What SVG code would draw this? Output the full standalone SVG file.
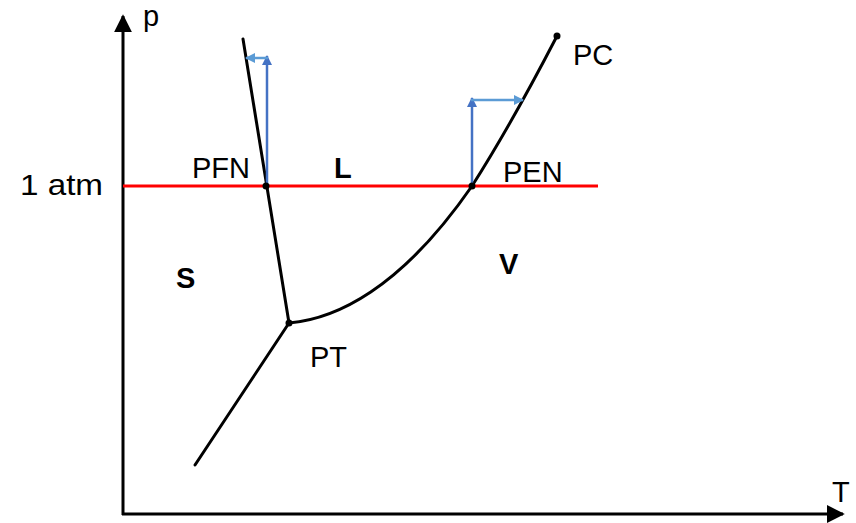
<svg xmlns="http://www.w3.org/2000/svg" width="856" height="523" viewBox="0 0 856 523">
<style>
text{font-family:"Liberation Sans","Open Sans",sans-serif;font-size:29px;fill:#000}
.b{font-weight:bold}
.curve{fill:none;stroke:#000;stroke-width:3;stroke-linecap:round}
.axis{fill:none;stroke:#000;stroke-width:3}
</style>
<defs>
<marker id="ah" viewBox="0 0 10 10" refX="9" refY="5" markerWidth="18" markerHeight="18" markerUnits="userSpaceOnUse" orient="auto"><path d="M0,0L10,5L0,10z" fill="#000"/></marker>
<marker id="bd" viewBox="0 0 10 10" refX="9" refY="5" markerWidth="10" markerHeight="10" markerUnits="userSpaceOnUse" orient="auto"><path d="M0,0L10,5L0,10z" fill="#4472C4"/></marker>
<marker id="bl" viewBox="0 0 10 10" refX="9" refY="5" markerWidth="10" markerHeight="10" markerUnits="userSpaceOnUse" orient="auto"><path d="M0,0L10,5L0,10z" fill="#5B9BD5"/></marker>
</defs>
<g id="axes">
<line class="axis" x1="123" y1="515" x2="123" y2="16" marker-end="url(#ah)"/>
<line class="axis" x1="122" y1="514" x2="843" y2="514" marker-end="url(#ah)"/>
<text x="143" y="26">p</text>
<text x="832" y="502">T</text>
</g>
<g id="isobar">
<line x1="123" y1="186" x2="598" y2="186" stroke="#FF0000" stroke-width="3"/>
<text x="20" y="195" textLength="83" lengthAdjust="spacingAndGlyphs">1 atm</text>
</g>
<g id="connectors">
<path id="fusion" class="curve" d="M243,39 L289,323"/>
<path id="sublimation" class="curve" d="M289,323 L195,465"/>
<path id="vaporization" class="curve" d="M289,323 C335,319 400,290 472,186 C500,142 528,92 557,36"/>
<line x1="267" y1="186" x2="267" y2="56" stroke="#4472C4" stroke-width="2.5" marker-end="url(#bd)"/>
<line x1="268" y1="58" x2="246" y2="58" stroke="#5B9BD5" stroke-width="2.5" marker-end="url(#bl)"/>
<line x1="472" y1="186" x2="472" y2="98" stroke="#4472C4" stroke-width="2.5" marker-end="url(#bd)"/>
<line x1="471" y1="100" x2="523" y2="100" stroke="#5B9BD5" stroke-width="2.5" marker-end="url(#bl)"/>
</g>
<g id="PFN"><circle cx="266" cy="186" r="3.5"/><text x="192" y="178">PFN</text></g>
<g id="PEN"><circle cx="472" cy="186" r="3.5"/><text x="503" y="182">PEN</text></g>
<g id="PT"><circle cx="289" cy="323" r="3.5"/><text x="310" y="367">PT</text></g>
<g id="PC"><circle cx="557" cy="36" r="3.5"/><text x="573" y="65">PC</text></g>
<g id="L"><text class="b" x="334" y="178">L</text></g>
<g id="S"><text class="b" x="176" y="288">S</text></g>
<g id="V"><text class="b" x="499" y="274">V</text></g>
</svg>
